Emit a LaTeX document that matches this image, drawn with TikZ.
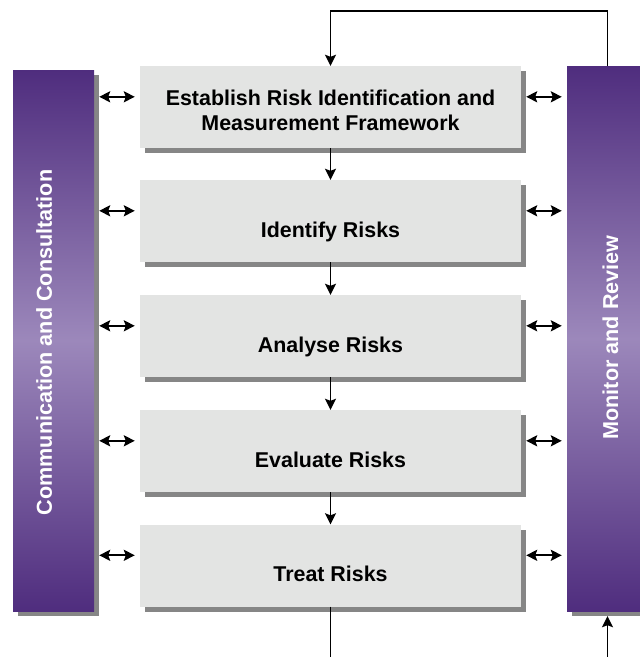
\documentclass[tikz,border=0pt]{standalone}
\usepackage{fontspec}
\setmainfont{Liberation Sans}
\usetikzlibrary{shadows,arrows.meta}
\definecolor{purpD}{RGB}{79,45,126}
\definecolor{purpL}{RGB}{156,136,187}
\definecolor{shgray}{RGB}{134,134,134}
\definecolor{boxgray}{RGB}{227,228,227}
\begin{document}
\begin{tikzpicture}[x=1pt,y=-1pt,
  shd/.style={drop shadow={shadow xshift=5pt,shadow yshift=-5pt,fill=shgray,opacity=1}},
  stepbox/.style={shd,fill=boxgray,draw=none,minimum width=381pt,minimum height=82pt,inner sep=0pt},
  bar/.style={shd,draw=none,top color=purpD,bottom color=purpD,middle color=purpL,minimum width=81pt,inner sep=0pt},
  boxtext/.style={font=\bfseries\fontsize{21.4}{25}\selectfont,align=center,inner sep=0pt},
  bartext/.style={font=\bfseries\fontsize{21.6}{25}\selectfont,text=white,rotate=90,inner sep=0pt,anchor=base},
  arr/.style={line width=1.8pt,-{Stealth[length=11pt,width=11pt,inset=2pt]}},
  ln/.style={line width=1.8pt},
  dbl/.style={line width=1.8pt,{Stealth[length=11pt,width=11pt,inset=2pt]}-{Stealth[length=11pt,width=11pt,inset=2pt]},shorten <=5pt,shorten >=5pt}]
\useasboundingbox (0,0) rectangle (640,657);
\begin{scope}
\clip (0,0) rectangle (640,657);
% side bars
\node[bar,minimum height=541pt] (L) at (53.5,340.5) {};
\node[bar,minimum height=545pt] (R) at (607.5,338.5) {};
\node[bartext] (Lt) at (52,342.5) {Communication and Consultation};
\node[bartext] (Rt) at (618,337.5) {Monitor and Review};
% step boxes
\node[stepbox] (b1) at (330.5,107) {};
\node[stepbox] (b2) at (330.5,221) {};
\node[stepbox] (b3) at (330.5,336) {};
\node[stepbox] (b4) at (330.5,451) {};
\node[stepbox] (b5) at (330.5,565.5) {};
\node[boxtext] (t1) at (330.5,110.5) {Establish Risk Identification and\\Measurement Framework};
\node[boxtext,anchor=base] (t2) at (330.5,237) {Identify Risks};
\node[boxtext,anchor=base] (t3) at (330.5,352) {Analyse Risks};
\node[boxtext,anchor=base] (t4) at (330.5,467) {Evaluate Risks};
\node[boxtext,anchor=base] (t5) at (330.5,581.5) {Treat Risks};
% flow arrows
\draw[arr] (b1.south) -- (b2.north);
\draw[arr] (b2.south) -- (b3.north);
\draw[arr] (b3.south) -- (b4.north);
\draw[arr] (b4.south) -- (b5.north);
% side double arrows
\foreach \i in {1,...,5}{
  \coordinate (al\i) at ([yshift=-31pt]b\i.north west);
  \coordinate (ar\i) at ([yshift=-31pt]b\i.north east);
  \draw[dbl] (L.east |- al\i) -- (al\i);
  \draw[dbl] (ar\i) -- (R.west |- ar\i);
}
% feedback loop
\coordinate (top) at (0,11);
\coordinate (bot) at (0,660);
\draw[arr] (R.north) -- (R.north |- top) -| (b1.north);
\draw[ln] (b5.south) -- (b5.south |- bot);
\draw[arr] (R.south |- bot) -- ([yshift=-5pt]R.south);
\end{scope}
\end{tikzpicture}
\end{document}
